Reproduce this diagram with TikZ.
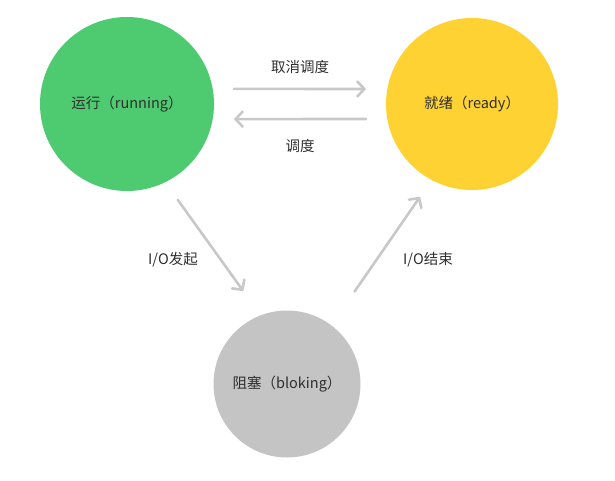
\documentclass[tikz,border=0pt]{standalone}
\usepackage{fontspec}
\setmainfont{Noto Sans CJK SC}
\usetikzlibrary{arrows.meta}

\definecolor{rungreen}{HTML}{4ECB71}
\definecolor{rdyyellow}{HTML}{FFD234}
\definecolor{blkgray}{HTML}{C4C4C4}
\definecolor{flowgray}{HTML}{C8C8C8}
\definecolor{txtgray}{HTML}{2E2E2E}

\tikzset{
  state/.style={circle, inner sep=0pt, text=txtgray,
    font=\fontsize{14.5pt}{17pt}\selectfont},
  flow/.style={line width=2.6pt, draw=flowgray, line cap=round,
    -{Straight Barb[length=7pt, width=15pt, line cap=round]}},
  lbl/.style={text=txtgray, font=\fontsize{14.5pt}{17pt}\selectfont}
}

\begin{document}
\begin{tikzpicture}[x=1pt, y=-1pt]
\useasboundingbox (0,0) rectangle (615,481);
% the three states
\node[state, fill=rungreen, minimum size=174pt] (run) at (127,104) {运行（running）};
\node[state, fill=rdyyellow, minimum size=172pt] (rdy) at (472,104) {就绪（ready）};
\node[state, fill=blkgray, minimum size=147pt] (blk) at (287,384) {阻塞（bloking）};
% transitions
\draw[flow, shorten <=21pt, shorten >=21pt] (run.10) -- (rdy.170);
\draw[flow, shorten <=21pt, shorten >=21pt] (rdy.-170) -- (run.-10);
\draw[flow, shorten <=21.5pt, shorten >=29.6pt] (run.-64.4) -- (blk.111.6);
\draw[flow, shorten <=40.8pt, shorten >=20.1pt] (blk.53.2) -- (rdy.-118.5);
% labels
\node[lbl] (cancel) at (300,67) {取消调度};
\node[lbl] (sched) at (300,146) {调度};
\node[lbl] (iostart) at (173,260) {I/O发起};
\node[lbl] (ioend) at (428,260) {I/O结束};
\end{tikzpicture}
\end{document}
